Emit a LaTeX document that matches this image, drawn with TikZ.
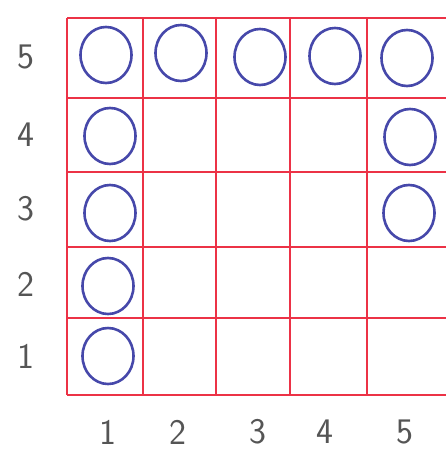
\documentclass[tikz,border=0pt]{standalone}
\usetikzlibrary{shapes.geometric}

\definecolor{gridred}{RGB}{236,50,70}
\definecolor{penblue}{RGB}{70,72,170}
\definecolor{pencil}{RGB}{85,85,85}

\tikzset{
  gridline/.style={gridred, line width=2.2pt},
  ring/.style={draw=penblue, ellipse, line width=2.6pt, minimum width=51pt, minimum height=56pt, inner sep=0pt},
  numlabel/.style={text=pencil, font=\sffamily\fontsize{36}{36}\selectfont, inner sep=0pt}
}

\begin{document}
\begin{tikzpicture}[x=1pt, y=-1pt]

  \useasboundingbox (0,0) rectangle (446,457);

  % Grille
  \foreach \x in {67,143,216,290,367} {
    \draw[gridline] (\x,18) -- (\x,395);
  }
  \foreach \y in {18,98,172,247,318,395} {
    \draw[gridline] (67,\y) -- (446,\y);
  }

  % Graduation
  \foreach \n/\y in {5/57, 4/135, 3/209, 2/284, 1/356} {
    \node[numlabel] (row\n) at (26,\y) {\n};
  }
  \foreach \n/\x in {1/108, 2/178, 3/258, 4/325, 5/405} {
    \node[numlabel] (col\n) at (\x,432) {\n};
  }

  % Cercles ligne 5
  \node[ring] (c-1-5) at (106,55) {};
  \node[ring] (c-2-5) at (181,53) {};
  \node[ring] (c-3-5) at (260,57) {};
  \node[ring] (c-4-5) at (335,56) {};
  \node[ring] (c-5-5) at (407,58) {};
  % Cercles colonne 1
  \node[ring] (c-1-4) at (110,136) {};
  \node[ring] (c-1-3) at (110,213) {};
  \node[ring] (c-1-2) at (108,286) {};
  \node[ring] (c-1-1) at (108,356) {};
  % Cercles colonne 5
  \node[ring] (c-5-4) at (410,137) {};
  \node[ring] (c-5-3) at (409,213) {};

\end{tikzpicture}
\end{document}
